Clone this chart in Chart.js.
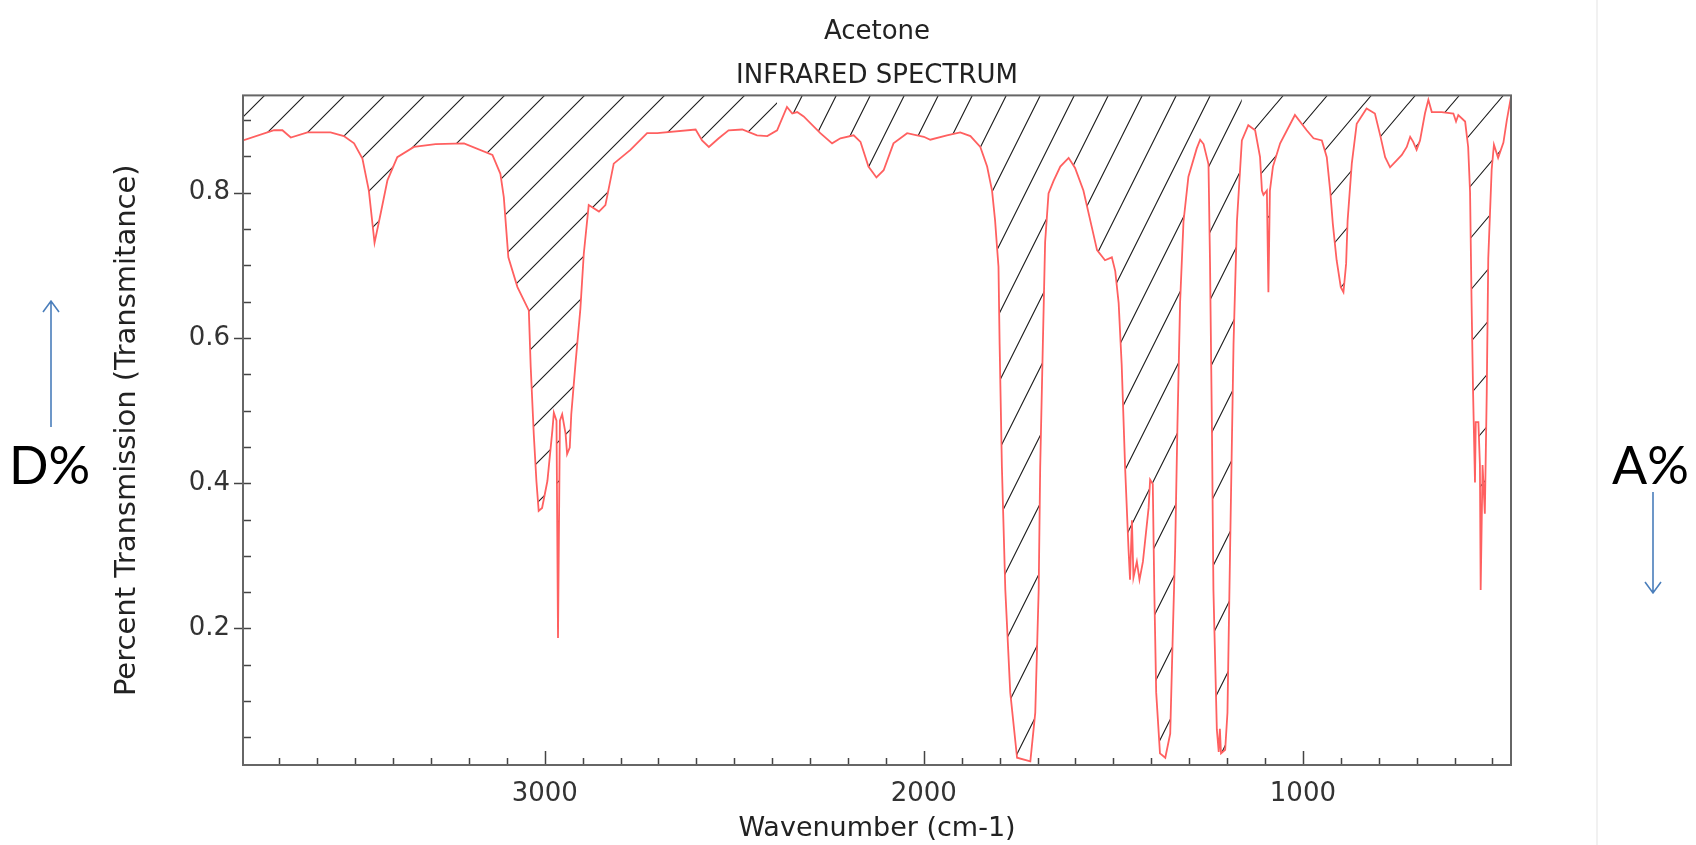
<!DOCTYPE html>
<html>
<head>
<meta charset="utf-8">
<title>Acetone - infrared spectrum</title>
<script src="https://cdn.jsdelivr.net/npm/chart.js@4.4.1/dist/chart.umd.min.js"></script>
<style>
  html, body { margin: 0; padding: 0; background: #fff; overflow: hidden; }
  #wrap { position: relative; width: 1696px; height: 845px; }
</style>
</head>
<body>
<div id="wrap"><canvas id="spectrum" width="1696" height="845"></canvas></div>
<script>
// trace: wavenumber (cm-1) against transmittance
const wavenumbers = [
  3796, 3714, 3692, 3670, 3626, 3565, 3530, 3503, 3481, 3464, 3449, 3433, 3415, 3389, 3345, 3288,
  3213, 3138, 3117, 3108, 3096, 3072, 3042, 3037, 3029, 3022, 3016, 3007, 2993, 2980, 2976, 2969,
  2965, 2960, 2954, 2945, 2941, 2934, 2930, 2919, 2906, 2897, 2884, 2857, 2840, 2818, 2774, 2730,
  2703, 2602, 2585, 2567, 2541, 2515, 2479, 2440, 2413, 2387, 2361, 2347, 2334, 2317, 2273, 2242,
  2220, 2185, 2167, 2146, 2125, 2106, 2080, 2044, 2000, 1983, 1939, 1904, 1877, 1851, 1833, 1820,
  1812, 1807, 1803, 1800, 1794, 1785, 1772, 1754, 1719, 1706, 1697, 1693, 1686, 1680, 1671, 1658,
  1640, 1618, 1601, 1579, 1557, 1543, 1522, 1504, 1495, 1486, 1478, 1469, 1460, 1456, 1451, 1447,
  1438, 1431, 1422, 1407, 1403, 1396, 1392, 1387, 1377, 1363, 1350, 1343, 1337, 1331, 1324, 1315,
  1302, 1280, 1271, 1262, 1249, 1245, 1240, 1236, 1227, 1222, 1219, 1216, 1205, 1199, 1192, 1183,
  1174, 1161, 1144, 1126, 1113, 1108, 1104, 1095, 1091, 1087, 1079, 1060, 1021, 990, 972, 950,
  937, 928, 921, 911, 900, 893, 886, 882, 871, 858, 832, 810, 796, 783, 770, 752,
  739, 726, 717, 709, 700, 691, 678, 669, 660, 634, 603, 596, 590, 572, 564, 559,
  555, 551, 546, 544, 537, 533, 531, 526, 520, 515, 511, 502, 496, 485, 471, 462,
  451
];
const transmittance = [
  0.872, 0.886, 0.886, 0.876, 0.883, 0.883, 0.878, 0.868, 0.847, 0.803, 0.731, 0.771, 0.817, 0.849, 0.863, 0.867,
  0.868, 0.852, 0.826, 0.794, 0.711, 0.670, 0.638, 0.560, 0.468, 0.403, 0.362, 0.366, 0.403, 0.472, 0.497, 0.486,
  0.187, 0.486, 0.495, 0.468, 0.440, 0.449, 0.495, 0.564, 0.640, 0.716, 0.783, 0.774, 0.783, 0.840, 0.859, 0.882,
  0.882, 0.887, 0.872, 0.863, 0.875, 0.886, 0.887, 0.879, 0.878, 0.886, 0.918, 0.909, 0.911, 0.905, 0.882, 0.868,
  0.875, 0.879, 0.870, 0.836, 0.821, 0.831, 0.868, 0.882, 0.877, 0.873, 0.879, 0.883, 0.878, 0.863, 0.836, 0.803,
  0.762, 0.726, 0.698, 0.591, 0.422, 0.253, 0.112, 0.022, 0.017, 0.084, 0.253, 0.422, 0.591, 0.732, 0.799, 0.816,
  0.836, 0.848, 0.834, 0.803, 0.753, 0.721, 0.707, 0.711, 0.692, 0.648, 0.563, 0.422, 0.309, 0.267, 0.349, 0.270,
  0.292, 0.267, 0.292, 0.366, 0.405, 0.399, 0.253, 0.112, 0.028, 0.022, 0.055, 0.196, 0.309, 0.478, 0.648, 0.760,
  0.822, 0.861, 0.873, 0.867, 0.839, 0.704, 0.478, 0.253, 0.061, 0.030, 0.062, 0.028, 0.033, 0.084, 0.309, 0.591,
  0.760, 0.872, 0.893, 0.886, 0.849, 0.803, 0.797, 0.803, 0.663, 0.803, 0.836, 0.868, 0.907, 0.886, 0.875, 0.872,
  0.849, 0.803, 0.757, 0.707, 0.670, 0.663, 0.702, 0.762, 0.840, 0.895, 0.916, 0.909, 0.879, 0.849, 0.835, 0.845,
  0.852, 0.863, 0.877, 0.870, 0.859, 0.872, 0.909, 0.928, 0.911, 0.911, 0.909, 0.898, 0.907, 0.898, 0.863, 0.801,
  0.648, 0.524, 0.401, 0.484, 0.484, 0.425, 0.253, 0.425, 0.358, 0.524, 0.709, 0.832, 0.866, 0.848, 0.869, 0.900,
  0.932
];

// axis limits and tick steps
const xRange = [451, 3796];
const yRange = [0.012, 0.934];
const xTickStep = 100;
const xLabelStep = 1000;
const yTickStep = 0.05;
const yLabelStep = 0.2;

// slanted hatching above the trace, one tile size per zone (cm-1 limits)
const hatchZones = [
  { from: 3796, to: 2387, w: 40, h: 40 },
  { from: 2387, to: 1161, w: 34, h: 68 },
  { from: 1161, to: 451, w: 44, h: 52 }
];

const FONT = 'DejaVu Sans';
const isYLabel = v => v > 0 && Math.abs(v / yLabelStep - Math.round(v / yLabelStep)) < 1e-6;

function hatchPattern(w, h) {
  const tile = document.createElement('canvas');
  tile.width = w;
  tile.height = h;
  const c = tile.getContext('2d');
  c.strokeStyle = '#1c1c1c';
  c.lineWidth = 1.1;
  c.beginPath();
  // three strokes so the lines join up across tile edges
  c.moveTo(-w, h); c.lineTo(w, -h);
  c.moveTo(0, h); c.lineTo(w, 0);
  c.moveTo(0, 2 * h); c.lineTo(2 * w, 0);
  c.stroke();
  return c.createPattern(tile, 'repeat');
}

const points = wavenumbers.map((x, i) => ({ x: x, y: transmittance[i] }));

const hatchSets = hatchZones.map(z => ({
  data: points.filter(p => p.x <= z.from && p.x >= z.to),
  borderColor: 'rgba(0,0,0,0)',
  borderWidth: 0,
  pointRadius: 0,
  tension: 0,
  fill: 'end',
  backgroundColor: hatchPattern(z.w, z.h),
  order: 2
}));

// inward tick marks and the plot frame
const frameTicks = {
  id: 'frameTicks',
  afterDatasetsDraw(chart) {
    const { ctx, chartArea: a, scales: { x, y } } = chart;
    ctx.save();
    ctx.strokeStyle = '#444';
    ctx.lineWidth = 1.5;
    ctx.beginPath();
    x.ticks.forEach(t => {
      const px = Math.round(x.getPixelForValue(t.value)) + 0.5;
      const len = t.value % xLabelStep === 0 ? 14 : 7;
      ctx.moveTo(px, a.bottom);
      ctx.lineTo(px, a.bottom - len);
    });
    y.ticks.forEach(t => {
      const py = Math.round(y.getPixelForValue(t.value)) + 0.5;
      ctx.moveTo(a.left - (isYLabel(t.value) ? 9 : 0), py);
      ctx.lineTo(a.left + 8, py);
    });
    ctx.stroke();
    ctx.strokeStyle = '#666';
    ctx.lineWidth = 2;
    ctx.strokeRect(a.left, a.top, a.right - a.left, a.bottom - a.top);
    ctx.restore();
  }
};

// D% / A% notes with arrows at both sides of the page
const sideNotes = {
  id: 'sideNotes',
  afterDraw(chart) {
    const ctx = chart.ctx;
    ctx.save();
    ctx.strokeStyle = '#ececec';
    ctx.lineWidth = 1.5;
    ctx.beginPath();
    ctx.moveTo(1597, 0);
    ctx.lineTo(1597, 845);
    ctx.stroke();

    ctx.fillStyle = '#000';
    ctx.font = '52px Lato';
    ctx.textBaseline = 'alphabetic';
    ctx.fillText('D%', 9, 484);
    ctx.fillText('A%', 1612, 484);

    ctx.strokeStyle = '#4a7ebb';
    ctx.lineWidth = 1.6;
    ctx.beginPath();
    ctx.moveTo(51, 427); ctx.lineTo(51, 301);
    ctx.moveTo(43, 312); ctx.lineTo(51, 301); ctx.lineTo(59, 312);
    ctx.moveTo(1653, 492); ctx.lineTo(1653, 593);
    ctx.moveTo(1645, 582); ctx.lineTo(1653, 593); ctx.lineTo(1661, 582);
    ctx.stroke();
    ctx.restore();
  }
};

new Chart(document.getElementById('spectrum'), {
  type: 'line',
  data: {
    datasets: [{
      label: 'Acetone',
      data: points,
      borderColor: 'rgb(255, 96, 96)',
      borderWidth: 1.8,
      pointRadius: 0,
      tension: 0,
      fill: false,
      order: 0
    }].concat(hatchSets)
  },
  options: {
    responsive: false,
    animation: false,
    events: [],
    layout: { padding: { left: 100, right: 185, top: 0, bottom: 0 } },
    plugins: {
      legend: { display: false },
      tooltip: { enabled: false },
      title: {
        display: true,
        text: 'Acetone',
        fullSize: false,
        color: '#222',
        font: { family: FONT, size: 26, weight: 'normal' },
        padding: { top: 17, bottom: 0 }
      },
      subtitle: {
        display: true,
        text: 'INFRARED SPECTRUM',
        fullSize: false,
        color: '#222',
        font: { family: FONT, size: 26, weight: 'normal' },
        padding: { top: 12, bottom: 4 }
      }
    },
    scales: {
      x: {
        type: 'linear',
        reverse: true,
        min: xRange[0],
        max: xRange[1],
        grid: { display: false, drawTicks: false },
        border: { display: false },
        ticks: {
          stepSize: xTickStep,
          includeBounds: false,
          autoSkip: false,
          maxRotation: 0,
          padding: 14,
          color: '#333',
          font: { family: FONT, size: 26 },
          callback: v => (v % xLabelStep === 0 ? String(v) : '')
        },
        title: {
          display: true,
          text: 'Wavenumber (cm-1)',
          color: '#222',
          font: { family: FONT, size: 27 },
          padding: { top: 0, bottom: 0 }
        },
        afterFit: s => { s.height = 80; }
      },
      y: {
        min: yRange[0],
        max: yRange[1],
        grid: { display: false, drawTicks: false },
        border: { display: false },
        ticks: {
          stepSize: yTickStep,
          includeBounds: false,
          autoSkip: false,
          padding: 13,
          color: '#333',
          font: { family: FONT, size: 26 },
          callback: v => (isYLabel(v) ? v.toFixed(1) : '')
        },
        title: {
          display: true,
          text: 'Percent Transmission (Transmitance)',
          color: '#222',
          font: { family: FONT, size: 29 },
          padding: { top: 10, bottom: 0 }
        },
        afterFit: s => { s.width = 143; }
      }
    }
  },
  plugins: [frameTicks, sideNotes]
});
</script>
</body>
</html>
